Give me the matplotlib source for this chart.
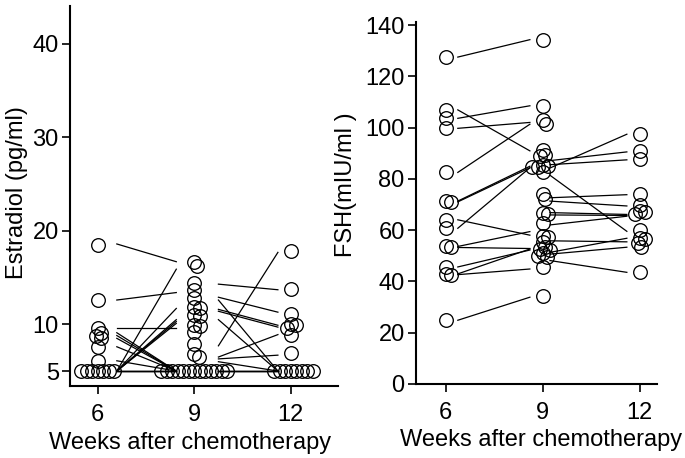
import numpy as np
import matplotlib
matplotlib.use("Agg")
import matplotlib.pyplot as plt

plt.rcParams['font.family'] = ['Liberation Sans', 'DejaVu Sans']

weeks = [6, 9, 12]

# Estradiol (pg/ml), 5 = detection limit
e2_w6 = [18.5, 12.6, 9.6, 9.1, 8.8, 8.5, 7.6, 6.1] + [5] * 7
e2_w9 = [16.7, 16.2, 14.4, 13.7, 12.8, 11.9, 11.8, 11.0, 10.9, 9.9, 9.8, 9.2,
         7.9, 6.8, 6.5] + [5] * 13
e2_w12 = [17.8, 13.8, 11.1, 10.0, 9.9, 9.6, 8.9, 6.9] + [5] * 8

# paired lines, estradiol
e2_a_start = [18.6, 12.6, 9.6, 5, 5, 5, 5, 5, 9.1, 8.8, 8.5, 7.6, 6.1, 5, 5, 5, 5]
e2_a_end = [16.7, 13.4, 9.6, 15.9, 11.7, 10.5, 10.3, 10.1, 5, 5, 5, 5, 5, 5, 5, 5, 5]
e2_b_start = [14.3, 12.9, 12.6, 11.6, 11.4, 10.5, 7.7, 6.5, 6.3, 6.0, 5, 5, 5, 5]
e2_b_end = [13.7, 11.3, 5, 9.9, 9.7, 5, 17.7, 8.9, 6.7, 5, 5, 5, 5, 5]

# FSH (mIU/ml)
fsh_w6 = [127.5, 106.9, 103.6, 99.7, 82.5, 71.3, 71.0, 64.0, 60.7, 53.6, 53.2,
          45.6, 42.9, 42.6, 24.8]
fsh_w9 = [134.3, 108.5, 102.8, 101.2, 91.3, 89.4, 89.0, 85.5, 85.0, 84.8, 84.5,
          82.6, 74.0, 72.0, 66.8, 66.2, 62.6, 57.8, 57.2, 55.2, 53.2, 52.6,
          52.2, 51.0, 50.0, 49.3, 45.5, 34.1]
fsh_w12 = [97.5, 90.7, 87.6, 74.1, 69.6, 67.4, 66.9, 66.4, 59.9, 57.0, 56.4,
           55.0, 53.4, 43.5]

# paired lines, FSH
fsh_a_start = [127.5, 106.9, 103.6, 99.7, 82.5, 71.3, 71.0, 64.0, 60.7, 53.6,
               53.2, 45.6, 42.9, 42.6, 24.8]
fsh_a_end = [134.3, 90.9, 108.5, 102.0, 101.3, 84.9, 84.3, 58.0, 84.3, 59.4,
             52.8, 52.2, 52.6, 44.8, 33.8]
fsh_b_start = [84.2, 87.1, 85.5, 81.4, 72.6, 71.3, 66.8, 65.9, 62.0, 55.8, 51.3,
               50.6, 48.1]
fsh_b_end = [97.4, 90.5, 87.4, 59.5, 73.8, 69.4, 66.1, 65.7, 65.4, 55.4, 56.8,
             53.3, 43.5]


def swarm(ax, x0, values, dmin=5.5):
    # simple beeswarm in pixel space, returns x positions in data units
    trans = ax.transData
    pts = trans.transform(np.column_stack([np.full(len(values), x0), values]))
    xc, ys = pts[0, 0], pts[:, 1]
    placed = []
    offs = np.zeros(len(values))
    for i in np.argsort(-np.asarray(values), kind="stable"):
        y = ys[i]
        cands = [0.0]
        for px, py in placed:
            dy = y - py
            if abs(dy) < dmin:
                dx = np.sqrt(dmin ** 2 - dy ** 2)
                cands += [px + dx, px - dx]
        cands.sort(key=lambda c: (abs(c), -c))
        for c in cands:
            if all((c - px) ** 2 + (y - py) ** 2 >= dmin ** 2 - 1e-6 for px, py in placed):
                offs[i] = c
                placed.append((c, y))
                break
    back = trans.inverted().transform(np.column_stack([xc + offs, ys]))
    return back[:, 0]


def draw_panel(ax, cols, seg_a, seg_b, xa, xb):
    for x0, vals in zip(weeks, cols):
        xs = swarm(ax, x0, vals)
        ax.plot(xs, vals, 'o', ms=9.8, mfc='none', mec='black', mew=0.95,
                zorder=3, clip_on=False)
    for (s, e), (x1, x2) in zip([seg_a, seg_b], [xa, xb]):
        for v1, v2 in zip(s, e):
            ax.plot([x1, x2], [v1, v2], color='black', lw=0.9, zorder=2)


fig = plt.figure(figsize=(6.85, 4.58), dpi=100)
ax1 = fig.add_axes([0.102, 0.157, 0.391, 0.830])
ax2 = fig.add_axes([0.607, 0.162, 0.352, 0.790])

ax1.set_xlim(5.13, 13.46)
ax1.set_ylim(3.39, 44.07)
ax2.set_xlim(5.07, 12.53)
ax2.set_ylim(0, 141.2)

draw_panel(ax1, [e2_w6, e2_w9, e2_w12], (e2_a_start, e2_a_end),
           (e2_b_start, e2_b_end), (6.59, 8.44), (9.75, 11.6))
draw_panel(ax2, [fsh_w6, fsh_w9, fsh_w12], (fsh_a_start, fsh_a_end),
           (fsh_b_start, fsh_b_end), (6.37, 8.6), (9.22, 11.6))

ax1.set_yticks([5, 10, 20, 30, 40])
ax2.set_yticks(range(0, 141, 20))

for ax in (ax1, ax2):
    ax.set_xticks(weeks)
    for side in ('top', 'right'):
        ax.spines[side].set_visible(False)
    for side in ('left', 'bottom'):
        ax.spines[side].set_linewidth(1.5)
    ax.tick_params(direction='out', length=6, width=1.2, labelsize=17)
    ax.tick_params(axis='x', pad=7)
    ax.tick_params(axis='y', pad=2)
    ax.set_xlabel("Weeks after chemotherapy", fontsize=17, va='top')

ax1.set_ylabel("Estradiol (pg/ml)", fontsize=17)
ax2.set_ylabel("FSH(mIU/ml )", fontsize=17)
ax1.yaxis.set_label_coords(-0.155, 0.51)
ax2.yaxis.set_label_coords(-0.243, 0.55)
ax1.xaxis.set_label_coords(0.45, -0.12)
ax2.xaxis.set_label_coords(0.52, -0.125)

fig.savefig("out.png", dpi=100)
